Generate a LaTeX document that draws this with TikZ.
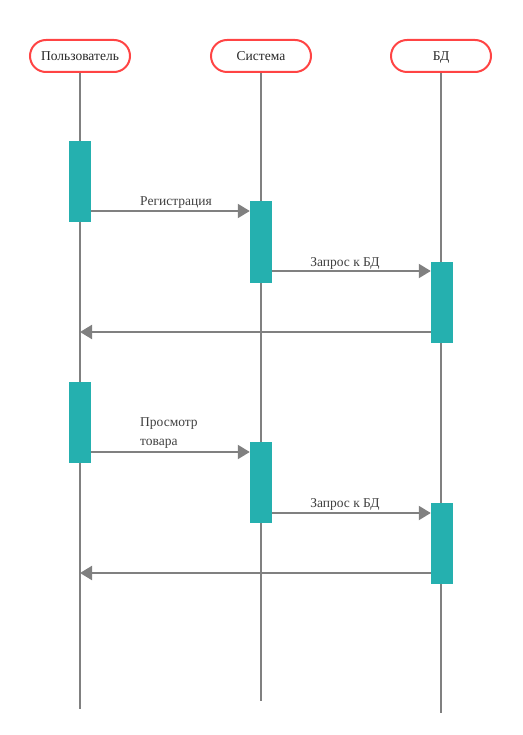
\documentclass[tikz,border=0pt]{standalone}
\usepackage{fontspec}
\setmainfont{Liberation Serif}
\usepackage{xcolor}
\usetikzlibrary{arrows.meta}
\definecolor{headred}{HTML}{FF4444}
\definecolor{barteal}{HTML}{25B0AF}
\definecolor{lifegray}{HTML}{808080}
\definecolor{msgtext}{HTML}{404040}
\tikzset{
  head/.style={draw=headred,line width=2pt,rounded corners=16pt,minimum width=100pt,minimum height=32pt,inner sep=0pt,font=\fontsize{13.5}{16}\selectfont,text=black!85,text depth=0pt},
  life/.style={draw=lifegray,line width=2pt},
  bar/.style={fill=barteal,draw=none,minimum width=22pt,minimum height=81pt,inner sep=0pt},
  msg/.style={draw=lifegray,line width=2pt,-{Triangle[length=12pt,width=14pt]}},
  msglabel/.style={font=\fontsize{13.5}{19}\selectfont,text=msgtext,inner sep=0pt}
}

\begin{document}
\begin{tikzpicture}[x=1pt,y=-1pt]
	\useasboundingbox (0,0) rectangle (522,735);
	% headers
	\node[head] (user) at (80,56) {Пользователь};
	\node[head] (sys) at (261,56) {Система};
	\node[head] (db) at (441,56) {БД};
	% lifelines
	\coordinate (userend) at (80,709);
	\coordinate (sysend) at (261,701);
	\coordinate (dbend) at (441,713);
	\draw[life] (user.south) -- (userend);
	\draw[life] (sys.south) -- (sysend);
	\draw[life] (db.south) -- (dbend);
	% activations
	\node[bar] (ua) at (80,181.5) {};
	\node[bar] (sa) at (261,242) {};
	\node[bar] (da) at (442,302) {};
	\node[bar] (ub) at (80,422.5) {};
	\node[bar] (sb) at (261,482.5) {};
	\node[bar] (db2) at (442,543) {};
	% messages
	\coordinate (reta) at (80,332);
	\coordinate (retb) at (80,573);
	\draw[msg] (ua.east |- 0,211) -- (sa.west |- 0,211);
	\draw[msg] (sa.east |- 0,271) -- (da.west |- 0,271);
	\draw[msg] (da.west |- reta) -- (reta);
	\draw[msg] (ub.east |- 0,452) -- (sb.west |- 0,452);
	\draw[msg] (sb.east |- 0,513) -- (db2.west |- 0,513);
	\draw[msg] (db2.west |- retb) -- (retb);
	% labels
	\node[msglabel] (reg) at (176,203) {Регистрация};
	\node[msglabel] (qa) at (345,263) {Запрос к БД};
	\node[msglabel,align=left,anchor=north west] (view) at (140,417) {Просмотр\\товара};
	\node[msglabel] (qb) at (345,504) {Запрос к БД};
\end{tikzpicture}
\end{document}
